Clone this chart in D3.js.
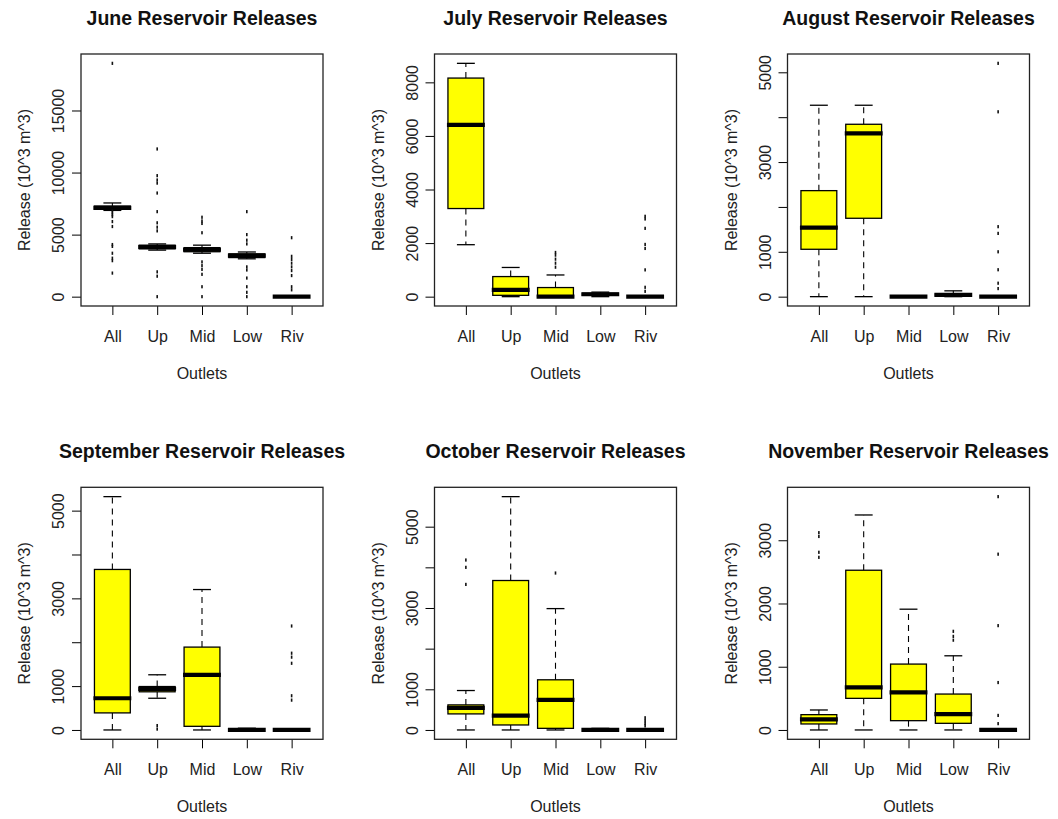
<!DOCTYPE html>
<html>
<head>
<meta charset="utf-8">
<script src="https://cdn.jsdelivr.net/npm/d3@7"></script>
<style>
  html, body { margin: 0; padding: 0; background: #ffffff; }
  svg { display: block; font-family: "Liberation Sans", Arial, Helvetica, sans-serif; }
</style>
</head>
<body>
<svg id="chart" width="1058" height="819"></svg>
<script>
// Outlet categories on the x axis
const outlets = ["All", "Up", "Mid", "Low", "Riv"];
const months = ["June", "July", "August", "September", "October", "November"];

// Box statistics per outlet: [lower whisker, Q1, median, Q3, upper whisker] (10^3 m^3)
const juneStats = [
  [6950, 7050, 7150, 7300, 7550],
  [3750, 3850, 4000, 4150, 4250],
  [3500, 3620, 3780, 3950, 4150],
  [3050, 3150, 3300, 3450, 3600],
  [0, 0, 0, 0, 0]
];
const julyStats = [
  [1940, 3290, 6410, 8160, 8710],
  [0, 50, 250, 750, 1090],
  [0, 0, 0, 340, 810],
  [0, 50, 90, 130, 170],
  [0, 0, 0, 0, 0]
];
const augustStats = [
  [0, 1056, 1538, 2363, 4266],
  [0, 1747, 3641, 3842, 4266],
  [0, 0, 0, 0, 0],
  [0, 20, 40, 60, 130],
  [0, 0, 0, 0, 0]
];
const septemberStats = [
  [0, 389, 723, 3659, 5319],
  [723, 870, 937, 990, 1258],
  [0, 83, 1258, 1889, 3201],
  [0, 0, 0, 0, 40],
  [0, 0, 0, 0, 0]
];
const octoberStats = [
  [0, 395, 543, 617, 970],
  [0, 123, 353, 3676, 5739],
  [0, 40, 740, 1234, 2985],
  [0, 0, 0, 0, 40],
  [0, 0, 0, 0, 0]
];
const novemberStats = [
  [0, 95, 168, 242, 316],
  [0, 500, 673, 2526, 3400],
  [0, 147, 594, 1042, 1910],
  [0, 105, 252, 568, 1173],
  [0, 0, 0, 0, 0]
];

// Points beyond the whiskers, per outlet
const juneOutliers = [
  [18800, 6900, 6750, 6600, 6450, 6050, 5650, 4200, 4050, 3500, 3100, 2900, 1900],
  [11900, 9750, 9400, 9150, 8350, 6850, 5950, 5600, 5300, 2000, 1650, 0],
  [6400, 6100, 5900, 5150, 2800, 2500, 2200, 1800, 800, 0],
  [6850, 5000, 4550, 4250, 2400, 2150, 1500, 800, 350, 0],
  [4750, 3250, 3000, 2700, 2400, 2100, 1700, 800, 550]
];
const julyOutliers = [
  [],
  [],
  [1650, 1550, 1400, 1250, 1100],
  [],
  [3000, 2900, 2550, 1950, 1800, 1000, 350, 200]
];
const augustOutliers = [
  [],
  [],
  [],
  [],
  [5200, 4120, 1560, 1410, 1000, 600, 300, 180]
];
const septemberOutliers = [
  [],
  [100, 20],
  [],
  [],
  [2370, 1750, 1660, 1520, 780, 680]
];
const octoberOutliers = [
  [4180, 4000, 3580],
  [],
  [3860],
  [],
  [300, 230, 160, 100]
];
const novemberOutliers = [
  [3120, 3060, 2810, 2730],
  [],
  [],
  [1560, 1480, 1420],
  [3690, 2780, 1650, 750, 230, 100]
];

// Y tick positions and the subset that carries a label
const juneTicks = [0, 5000, 10000, 15000];
const juneTickLabels = [0, 5000, 10000, 15000];
const julyTicks = [0, 2000, 4000, 6000, 8000];
const julyTickLabels = [0, 2000, 4000, 6000, 8000];
const augustTicks = [0, 1000, 2000, 3000, 4000, 5000];
const augustTickLabels = [0, 1000, 3000, 5000];
const septemberTicks = [0, 1000, 2000, 3000, 4000, 5000];
const septemberTickLabels = [0, 1000, 3000, 5000];
const octoberTicks = [0, 1000, 2000, 3000, 4000, 5000];
const octoberTickLabels = [0, 1000, 3000, 5000];
const novemberTicks = [0, 1000, 2000, 3000];
const novemberTickLabels = [0, 1000, 2000, 3000];

const panels = [
  { stats: juneStats, outliers: juneOutliers, ticks: juneTicks, labels: juneTickLabels },
  { stats: julyStats, outliers: julyOutliers, ticks: julyTicks, labels: julyTickLabels },
  { stats: augustStats, outliers: augustOutliers, ticks: augustTicks, labels: augustTickLabels },
  { stats: septemberStats, outliers: septemberOutliers, ticks: septemberTicks, labels: septemberTickLabels },
  { stats: octoberStats, outliers: octoberOutliers, ticks: octoberTicks, labels: octoberTickLabels },
  { stats: novemberStats, outliers: novemberOutliers, ticks: novemberTicks, labels: novemberTickLabels }
].map((p, i) => Object.assign(p, { month: months[i] }));

// Layout of the 3 x 2 grid of plot regions
const colLeft = [81, 434.5, 787.5];
const rowTop = [54, 487.3];
const plotW = 242;
const plotH = 252;
const tickLen = 9;
const boxFill = "#ffff00";

const svg = d3.select("#chart");

panels.forEach((p, i) => {
  const left = colLeft[i % 3];
  const top = rowTop[Math.floor(i / 3)];
  const bottom = top + plotH;

  // Data extent padded by 4% on each side
  const vals = p.stats.flat().concat(p.outliers.flat());
  const lo = d3.min(vals), hi = d3.max(vals);
  const pad = (hi - lo) * 0.04;

  const y = d3.scaleLinear().domain([lo - pad, hi + pad]).range([bottom, top]);
  const x = d3.scalePoint().domain(outlets).range([left, left + plotW]).padding(0.7);
  const boxW = x.step() * 0.8;

  const g = svg.append("g");

  outlets.forEach((o, j) => {
    const s = p.stats[j];
    const cx = x(o);
    const bg = g.append("g");

    // whiskers
    bg.append("line").attr("x1", cx).attr("x2", cx).attr("y1", y(s[3])).attr("y2", y(s[4]))
      .attr("stroke", "#000").attr("stroke-width", 1.1).attr("stroke-dasharray", "6,5");
    bg.append("line").attr("x1", cx).attr("x2", cx).attr("y1", y(s[1])).attr("y2", y(s[0]))
      .attr("stroke", "#000").attr("stroke-width", 1.1).attr("stroke-dasharray", "6,5");

    // staples
    [s[0], s[4]].forEach(v => {
      bg.append("line").attr("x1", cx - boxW / 4).attr("x2", cx + boxW / 4)
        .attr("y1", y(v)).attr("y2", y(v))
        .attr("stroke", "#000").attr("stroke-width", 1.3);
    });

    // box
    bg.append("rect")
      .attr("x", cx - boxW / 2).attr("y", y(s[3]))
      .attr("width", boxW).attr("height", Math.max(0, y(s[1]) - y(s[3])))
      .attr("fill", boxFill).attr("stroke", "#000").attr("stroke-width", 1.3);

    // median
    bg.append("line").attr("x1", cx - boxW / 2 - 1).attr("x2", cx + boxW / 2 + 1)
      .attr("y1", y(s[2])).attr("y2", y(s[2]))
      .attr("stroke", "#000").attr("stroke-width", 4.2);

    // outliers
    bg.selectAll("rect.out").data(p.outliers[j]).join("rect")
      .attr("class", "out")
      .attr("x", cx - 0.8).attr("y", d => y(d) - 1.6)
      .attr("width", 1.6).attr("height", 3.2)
      .attr("fill", "#111");
  });

  // y axis with rotated labels
  const yAxis = g.append("g").attr("transform", `translate(${left},0)`)
    .call(d3.axisLeft(y).tickValues(p.ticks).tickSize(tickLen)
      .tickFormat(d => p.labels.includes(d) ? String(d) : ""));
  yAxis.select(".domain").remove();
  yAxis.selectAll(".tick line").attr("stroke", "#000").attr("stroke-width", 1);
  yAxis.selectAll(".tick text")
    .attr("x", 0).attr("y", -17).attr("dy", 0)
    .attr("transform", "rotate(-90)")
    .attr("text-anchor", "middle")
    .attr("fill", "#222")
    .style("font-size", "16px");
  yAxis.attr("font-family", null).attr("font-size", null);

  // x axis
  const xAxis = g.append("g").attr("transform", `translate(0,${bottom})`)
    .call(d3.axisBottom(x).tickSize(tickLen));
  xAxis.select(".domain").remove();
  xAxis.selectAll(".tick line").attr("stroke", "#000").attr("stroke-width", 1);
  xAxis.selectAll(".tick text")
    .attr("y", 36).attr("dy", 0)
    .attr("fill", "#222")
    .style("font-size", "16px");
  xAxis.attr("font-family", null).attr("font-size", null);

  // plot frame
  g.append("rect").attr("x", left).attr("y", top).attr("width", plotW).attr("height", plotH)
    .attr("fill", "none").attr("stroke", "#222").attr("stroke-width", 1.3);

  // title and axis titles
  g.append("text").attr("x", left + plotW / 2).attr("y", top - 29)
    .attr("text-anchor", "middle").style("font-size", "19.5px").style("font-weight", "bold")
    .attr("fill", "#111").text(`${p.month} Reservoir Releases`);
  g.append("text").attr("x", left + plotW / 2).attr("y", bottom + 73)
    .attr("text-anchor", "middle").style("font-size", "16px")
    .attr("fill", "#222").text("Outlets");
  g.append("text")
    .attr("transform", `translate(${left - 51},${top + plotH / 2}) rotate(-90)`)
    .attr("text-anchor", "middle").style("font-size", "16px")
    .attr("fill", "#222").text("Release (10^3 m^3)");
});
</script>
</body>
</html>
